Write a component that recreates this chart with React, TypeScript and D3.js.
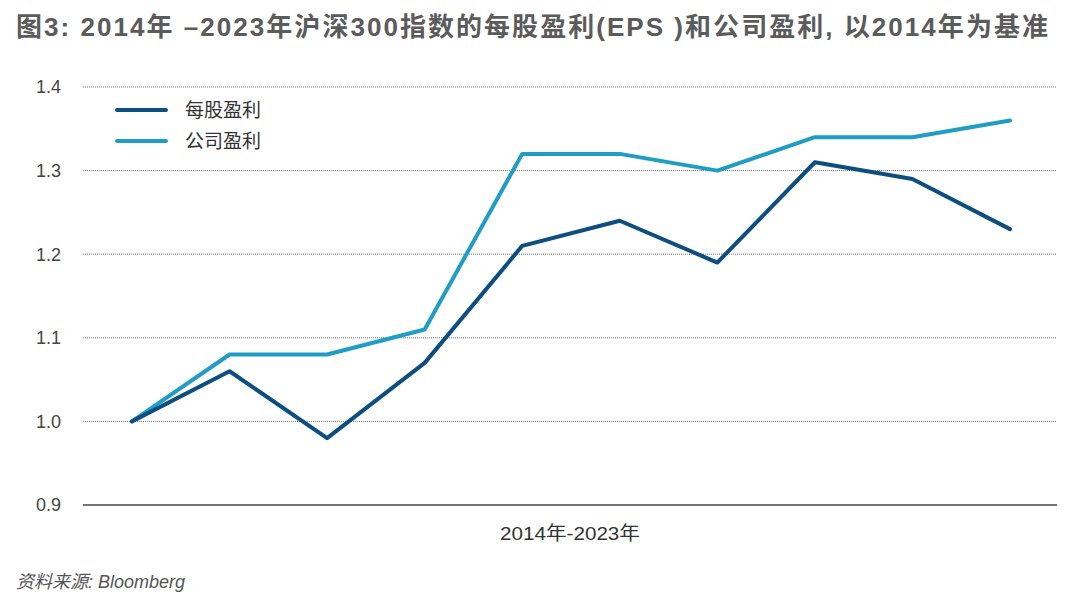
import { useEffect, useRef } from 'react';
import * as d3 from 'd3';

const years = ['2014', '2015', '2016', '2017', '2018', '2019', '2020', '2021', '2022', '2023'];
const epsValues = [1.0, 1.06, 0.98, 1.07, 1.21, 1.24, 1.19, 1.31, 1.29, 1.23];
const profitValues = [1.0, 1.08, 1.08, 1.11, 1.32, 1.32, 1.3, 1.34, 1.34, 1.36];
const yTicks = [0.9, 1.0, 1.1, 1.2, 1.3, 1.4];

const seriesList = [
  { name: '每股盈利', values: epsValues, color: '#0c4e7f' },
  { name: '公司盈利', values: profitValues, color: '#1f9dc5' },
];

const FONT = '"Liberation Sans", "Noto Sans CJK SC", sans-serif';

const App = () => {
  const svgRef = useRef<SVGSVGElement>(null);

  useEffect(() => {
    if (!svgRef.current) return;
    const svg = d3.select(svgRef.current);
    svg.selectAll('*').remove();

    const width = 1072;
    const height = 598;

    // plot area
    const gridLeft = 83;
    const gridRight = 1057;

    const x = d3.scalePoint<string>().domain(years).range([132, 1010]);
    const y = d3.scaleLinear().domain([0.9, 1.4]).range([505, 87]);

    svg.attr('width', width).attr('height', height);

    svg.append('rect').attr('width', width).attr('height', height).attr('fill', '#fff');

    // title
    svg.append('text')
      .attr('x', 16)
      .attr('y', 36)
      .attr('font-family', FONT)
      .attr('font-size', 26)
      .attr('font-weight', 700)
      .attr('fill', '#5b5b5b')
      .attr('textLength', 1032)
      .attr('lengthAdjust', 'spacing')
      .text('图3: 2014年 –2023年沪深300指数的每股盈利(EPS )和公司盈利, 以2014年为基准');

    // grid lines
    svg.append('g')
      .selectAll('line')
      .data(yTicks.filter(t => t > 0.9))
      .enter()
      .append('line')
      .attr('x1', gridLeft)
      .attr('x2', gridRight)
      .attr('y1', d => y(d))
      .attr('y2', d => y(d))
      .attr('stroke', '#777')
      .attr('stroke-width', 1)
      .attr('stroke-dasharray', '1,1');

    // baseline
    svg.append('line')
      .attr('x1', gridLeft)
      .attr('x2', gridRight)
      .attr('y1', y(0.9))
      .attr('y2', y(0.9))
      .attr('stroke', '#444')
      .attr('stroke-width', 1.5);

    // y tick labels
    svg.append('g')
      .selectAll('text')
      .data(yTicks)
      .enter()
      .append('text')
      .attr('x', 61)
      .attr('y', d => y(d))
      .attr('dy', '0.36em')
      .attr('text-anchor', 'end')
      .attr('font-family', FONT)
      .attr('font-size', 18)
      .attr('fill', '#444')
      .text(d => d3.format('.1f')(d));

    // lines
    const line = d3.line<number>()
      .x((_, i) => x(years[i]) || 0)
      .y(d => y(d));

    svg.append('g')
      .selectAll('path')
      .data(seriesList.slice().reverse())
      .enter()
      .append('path')
      .attr('d', d => line(d.values))
      .attr('fill', 'none')
      .attr('stroke', d => d.color)
      .attr('stroke-width', 4)
      .attr('stroke-linejoin', 'round')
      .attr('stroke-linecap', 'round');

    // legend
    const legend = svg.append('g')
      .selectAll('g')
      .data(seriesList)
      .enter()
      .append('g')
      .attr('transform', (_, i) => `translate(117,${110 + i * 31})`);

    legend.append('line')
      .attr('x1', 0)
      .attr('x2', 49)
      .attr('stroke', d => d.color)
      .attr('stroke-width', 4)
      .attr('stroke-linecap', 'round');

    legend.append('text')
      .attr('x', 68)
      .attr('dy', '0.36em')
      .attr('font-family', FONT)
      .attr('font-size', 19)
      .attr('fill', '#333')
      .text(d => d.name);

    // x axis title
    svg.append('text')
      .attr('x', 570)
      .attr('y', 540)
      .attr('text-anchor', 'middle')
      .attr('font-family', FONT)
      .attr('font-size', 19)
      .attr('fill', '#333')
      .attr('textLength', 140)
      .attr('lengthAdjust', 'spacingAndGlyphs')
      .text('2014年-2023年');

    // source
    svg.append('text')
      .attr('x', 16)
      .attr('y', 588)
      .attr('font-family', FONT)
      .attr('font-size', 18)
      .attr('font-style', 'italic')
      .attr('fill', '#555')
      .text('资料来源: Bloomberg');
  }, []);

  return <svg ref={svgRef} style={{ display: 'block', position: 'absolute', left: 0, top: 0 }} />;
};

export default App;
